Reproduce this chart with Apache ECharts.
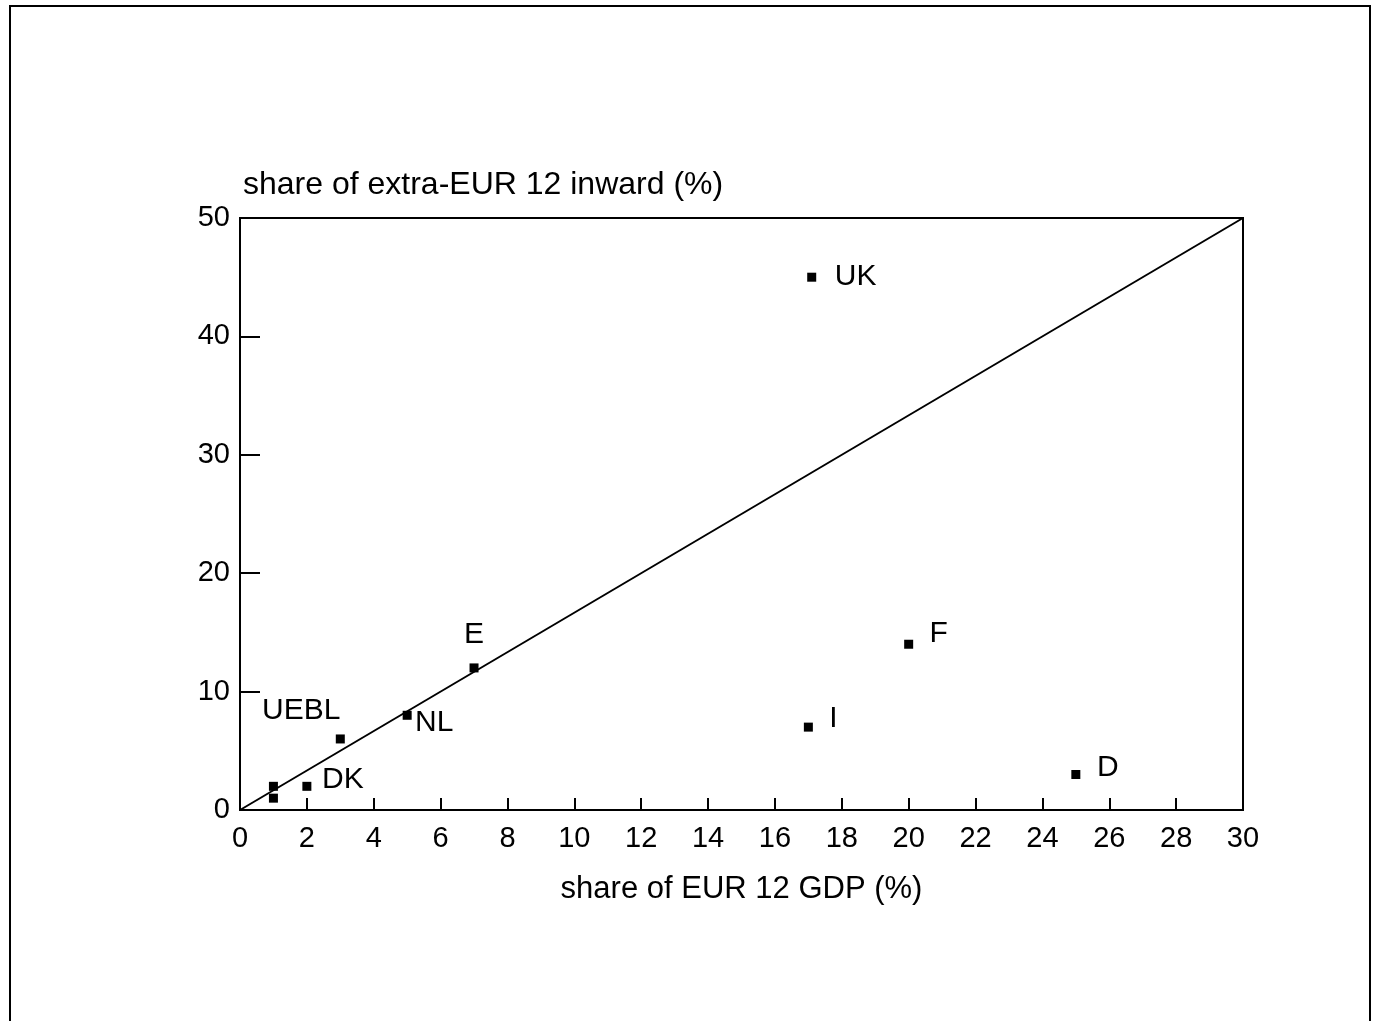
<!DOCTYPE html>
<html>
<head>
<meta charset="utf-8">
<script src="https://cdn.jsdelivr.net/npm/echarts@6/dist/echarts.min.js"></script>
<style>
  html, body { margin: 0; background: #fff; }
  #main { width: 1376px; height: 1021px; }
</style>
</head>
<body>
<div id="main"></div>
<script>
// country labels, x = share of EUR 12 GDP, y = share of extra-EUR 12 inward
const countries = ['UK', 'F', 'I', 'D', 'E', 'NL', 'UEBL', 'DK', '', '']
const gdpShare = [17.1, 20, 17, 25, 7, 5, 3, 2, 1, 1]
const inwardShare = [45, 14, 7, 3, 12, 8, 6, 2, 2, 1]
const diagonalX = [0, 30]
const diagonalY = [0, 50]
const xTicks = [0, 2, 4, 6, 8, 10, 12, 14, 16, 18, 20, 22, 24, 26, 28, 30]
const yTicks = [0, 10, 20, 30, 40, 50]

// label placement (pixel offsets from the point centre)
const labelOffset = {
  UK: [44, 0], F: [30, -11], I: [25, -8], D: [32, -7],
  E: [0, -33], NL: [27, 7], UEBL: [-39, -28], DK: [36, -7]
}

const font = 'Liberation Sans, Arial, Helvetica, sans-serif'
const myChart = echarts.init(document.getElementById('main'), null, { renderer: 'canvas' })

const points = gdpShare.map((x, i) => {
  const name = countries[i]
  return {
    value: [x, inwardShare[i]],
    name: name,
    label: name ? {
      show: true, position: 'inside', offset: labelOffset[name], formatter: name,
      color: '#000', fontSize: 30, fontFamily: font
    } : { show: false }
  }
})

const option = {
  backgroundColor: '#fff',
  animation: false,
  textStyle: { fontFamily: font },
  graphic: [{
    type: 'rect',
    shape: { x: 10, y: 6, width: 1360, height: 1100 },
    style: { fill: 'none', stroke: '#000', lineWidth: 2 }
  }],
  grid: {
    left: 240, right: 133, top: 218, bottom: 211,
    show: true, borderColor: '#000', borderWidth: 2, backgroundColor: 'transparent'
  },
  xAxis: {
    type: 'value',
    min: xTicks[0], max: xTicks[xTicks.length - 1], interval: 2,
    name: 'share of EUR 12 GDP (%)',
    nameLocation: 'middle', nameGap: 64,
    nameTextStyle: { color: '#000', fontSize: 31, fontFamily: font },
    axisLine: { lineStyle: { color: '#000', width: 2 } },
    axisTick: { inside: true, length: 12, lineStyle: { color: '#000', width: 2 } },
    axisLabel: { color: '#000', fontSize: 29, margin: 14, fontFamily: font },
    splitLine: { show: false }
  },
  yAxis: {
    type: 'value',
    min: yTicks[0], max: yTicks[yTicks.length - 1], interval: 10,
    name: 'share of extra-EUR 12 inward (%)',
    nameLocation: 'end', nameGap: 17,
    nameTextStyle: { color: '#000', fontSize: 32, align: 'left', padding: [0, 0, 0, 3], fontFamily: font },
    axisLine: { lineStyle: { color: '#000', width: 2 } },
    axisTick: { inside: true, length: 20, lineStyle: { color: '#000', width: 2 } },
    axisLabel: { color: '#000', fontSize: 29, margin: 10, fontFamily: font },
    splitLine: { show: false }
  },
  series: [
    {
      type: 'line',
      data: diagonalX.map((x, i) => [x, diagonalY[i]]),
      symbol: 'none',
      lineStyle: { color: '#000', width: 2 },
      silent: true
    },
    {
      type: 'scatter',
      data: points,
      symbol: 'rect',
      symbolSize: 9,
      itemStyle: { color: '#000', opacity: 1 },
      label: { color: '#000', fontSize: 30, fontFamily: font }
    }
  ]
}
myChart.setOption(option)
</script>
</body>
</html>
